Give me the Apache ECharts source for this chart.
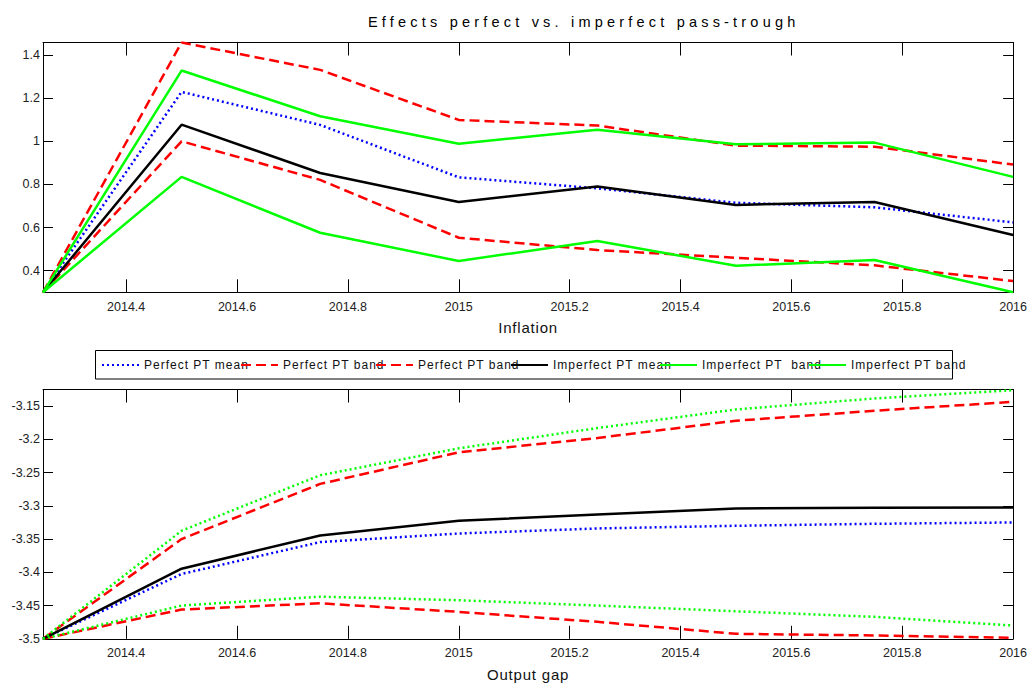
<!DOCTYPE html>
<html>
<head>
<meta charset="utf-8">
<script src="https://cdn.jsdelivr.net/npm/echarts@6/dist/echarts.min.js"></script>
<style>
html,body{margin:0;padding:0;background:#fff;}
#chart{width:1030px;height:687px;}
</style>
</head>
<body>
<div id="chart"></div>
<script>
// ---------- data ----------
const titleText = 'Effects perfect vs. imperfect pass-trough';
const quarters = [2014.25, 2014.5, 2014.75, 2015, 2015.25, 2015.5, 2015.75, 2016];

const legendNames = ['Perfect PT mean', 'Perfect PT band', 'Perfect PT band ', 'Imperfect PT mean', 'Imperfect PT  band', 'Imperfect PT band'];

// Inflation panel
const inflPerfMean   = [0.30, 1.229, 1.076, 0.833, 0.782, 0.715, 0.694, 0.624];
const inflPerfUpper  = [0.30, 1.458, 1.331, 1.099, 1.073, 0.980, 0.975, 0.892];
const inflPerfLower  = [0.30, 1.000, 0.821, 0.553, 0.496, 0.460, 0.425, 0.352];
const inflImpMean    = [0.30, 1.077, 0.853, 0.719, 0.790, 0.705, 0.719, 0.566];
const inflImpUpper   = [0.30, 1.328, 1.116, 0.989, 1.054, 0.986, 0.994, 0.835];
const inflImpLower   = [0.30, 0.835, 0.576, 0.445, 0.538, 0.423, 0.450, 0.300];

// Output gap panel
const gapPerfMean  = [-3.5, -3.4025, -3.3545, -3.3416, -3.334, -3.330, -3.327, -3.325];
const gapPerfUpper = [-3.5, -3.350, -3.267, -3.2195, -3.198, -3.172, -3.157, -3.1435];
const gapPerfLower = [-3.5, -3.456, -3.4466, -3.4595, -3.4745, -3.4925, -3.495, -3.4985];
const gapImpMean   = [-3.5, -3.3945, -3.3446, -3.3226, -3.313, -3.304, -3.303, -3.3025];
const gapImpUpper  = [-3.5, -3.3375, -3.254, -3.2135, -3.183, -3.155, -3.1385, -3.126];
const gapImpLower  = [-3.5, -3.450, -3.4366, -3.442, -3.450, -3.4586, -3.467, -3.480];

// ---------- chart ----------
const FONT = '"Liberation Sans", Arial, Helvetica, sans-serif';
const pairs = (vals) => quarters.map((q, i) => [q, vals[i]]);
const plain = (v) => String(parseFloat(Number(v).toFixed(4)));

const BLUE = '#0000ff', RED = '#ff0000', BLACK = '#000000', GREEN = '#00ff00';
const LW = 2.5;
const DOT = [2, 3], DASH = [10, 5];

function line(name, vals, color, type, xi, yi) {
  return {
    name: name, type: 'line', xAxisIndex: xi, yAxisIndex: yi,
    data: pairs(vals), symbol: 'none', showSymbol: false, silent: true,
    lineStyle: { color: color, width: LW, type: type, cap: 'butt' },
    itemStyle: { color: color }
  };
}

function xAx(grid, pos, name, showLabels) {
  return {
    type: 'value', gridIndex: grid, position: pos,
    min: 2014.25, max: 2016, splitNumber: 8,
    axisLine: { show: true, onZero: false, lineStyle: { color: '#000', width: 1 } },
    axisTick: { show: true, inside: true, length: 13, lineStyle: { color: '#000', width: 1 } },
    axisLabel: { show: showLabels, showMinLabel: false, margin: 8, fontSize: 12.5, color: '#222', fontFamily: FONT, formatter: plain },
    splitLine: { show: false },
    name: name || '', nameLocation: 'middle', nameGap: 28,
    nameTextStyle: { fontSize: 15, color: '#111', fontFamily: FONT }
  };
}
function yAx(grid, pos, min, max, split, showLabels, showMin) {
  return {
    type: 'value', gridIndex: grid, position: pos,
    min: min, max: max, splitNumber: split,
    axisLine: { show: true, onZero: false, lineStyle: { color: '#000', width: 1 } },
    axisTick: { show: true, inside: true, length: 10, lineStyle: { color: '#000', width: 1 } },
    axisLabel: { show: showLabels, showMinLabel: showMin, showMaxLabel: false, margin: 3, fontSize: 12.5, color: '#222', fontFamily: FONT, formatter: plain },
    splitLine: { show: false }
  };
}

const legendLefts = [101, 240, 375, 510, 659, 808];
const legends = legendNames.map((n, i) => ({
  data: [n], left: legendLefts[i], top: 359, padding: 0, orient: 'horizontal',
  itemWidth: 37, itemHeight: 10, itemGap: 0, selectedMode: false, z: 10,
  itemStyle: { opacity: 0, color: 'rgba(0,0,0,0)', borderWidth: 0 },
  textStyle: { fontSize: 12, color: '#111', fontFamily: FONT }
}));

const option = {
  animation: false,
  backgroundColor: '#ffffff',
  title: {
    text: titleText, left: 368, top: 14, padding: 0,
    textStyle: { fontSize: 14.5, fontWeight: 'normal', color: '#000', fontFamily: FONT }
  },
  legend: legends,
  graphic: [{
    type: 'rect', z: 0, silent: true,
    shape: { x: 95.5, y: 350.5, width: 857, height: 28.5 },
    style: { fill: '#fff', stroke: '#000', lineWidth: 1 }
  }],
  grid: [
    { left: 43, right: 15.5, top: 42.5, height: 249.8, containLabel: false },
    { left: 43, right: 15.5, top: 389.5, height: 249.3, containLabel: false }
  ],
  xAxis: [
    xAx(0, 'bottom', 'Inflation', true),
    xAx(0, 'top', '', false),
    xAx(1, 'bottom', 'Output gap', true),
    xAx(1, 'top', '', false)
  ],
  yAxis: [
    yAx(0, 'left', 0.3, 1.458, 6, true, false),
    yAx(0, 'right', 0.3, 1.458, 6, false, false),
    yAx(1, 'left', -3.5, -3.125, 8, true, true),
    yAx(1, 'right', -3.5, -3.125, 8, false, false)
  ],
  series: [
    line(legendNames[0], inflPerfMean, BLUE, DOT, 0, 0),
    line(legendNames[1], inflPerfUpper, RED, DASH, 0, 0),
    line(legendNames[2], inflPerfLower, RED, DASH, 0, 0),
    line(legendNames[3], inflImpMean, BLACK, 'solid', 0, 0),
    line(legendNames[4], inflImpUpper, GREEN, 'solid', 0, 0),
    line(legendNames[5], inflImpLower, GREEN, 'solid', 0, 0),
    line('Output gap: Perfect PT mean', gapPerfMean, BLUE, DOT, 2, 2),
    line('Output gap: Perfect PT upper band', gapPerfUpper, RED, DASH, 2, 2),
    line('Output gap: Perfect PT lower band', gapPerfLower, RED, DASH, 2, 2),
    line('Output gap: Imperfect PT mean', gapImpMean, BLACK, 'solid', 2, 2),
    line('Output gap: Imperfect PT upper band', gapImpUpper, GREEN, DOT, 2, 2),
    line('Output gap: Imperfect PT lower band', gapImpLower, GREEN, DOT, 2, 2)
  ]
};

const dom = document.getElementById('chart');
const chart = echarts.init(dom, null, { renderer: 'svg' });
chart.setOption(option);

function applySpacing() {
  dom.querySelectorAll('text').forEach(t => {
    const s = t.textContent;
    if (s === titleText) t.setAttribute('letter-spacing', '4.2');
    else if (legendNames.indexOf(s) >= 0 || legendNames.indexOf(s.replace(/\s+$/, '')) >= 0) t.setAttribute('letter-spacing', '1');
    else if (s === 'Inflation' || s === 'Output gap') t.setAttribute('letter-spacing', '0.8');
  });
}
applySpacing();
chart.on('finished', applySpacing);
</script>
</body>
</html>
